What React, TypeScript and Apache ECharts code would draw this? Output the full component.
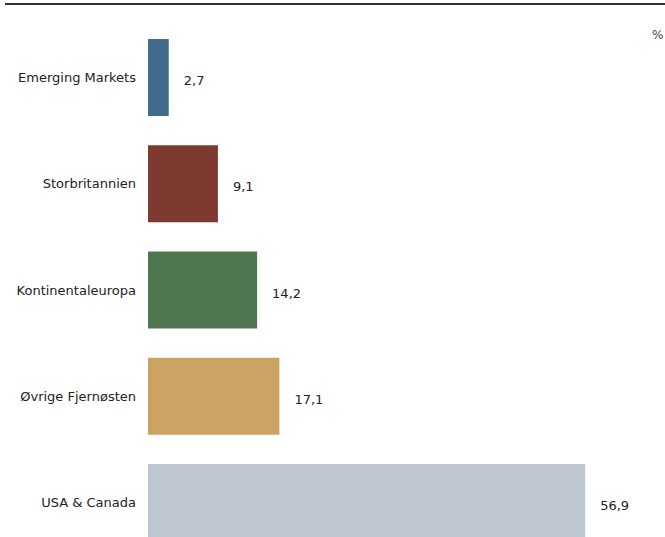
import React, { useEffect, useRef } from "react";
import * as echarts from "echarts";

const categories = ["Emerging Markets", "Storbritannien", "Kontinentaleuropa", "Øvrige Fjernøsten", "USA & Canada"];
const values = [2.7, 9.1, 14.2, 17.1, 56.9];
const colors = ["#416b8a", "#7e3a31", "#4f7751", "#caa261", "#bfc7d2"];
const unitLabel = "%";
const FONT = "'DejaVu Sans', 'Noto Sans', sans-serif";

export default function App() {
  const ref = useRef<HTMLDivElement>(null);
  useEffect(() => {
    const chart = echarts.init(ref.current!, null, { renderer: "svg" });
    chart.setOption({
      animation: false,
      grid: { left: 148, top: 24.5, width: 461, height: 531, containLabel: false, outerBoundsMode: "none" },
      xAxis: { type: "value", min: 0, max: 60, show: false },
      yAxis: {
        type: "category",
        inverse: true,
        data: categories,
        axisLine: { show: false },
        axisTick: { show: false },
        splitLine: { show: false },
        axisLabel: { color: "#222", fontSize: 13, fontFamily: FONT, margin: 12, padding: [12, 0, 0, 0] },
      },
      series: [
        {
          type: "bar",
          barWidth: 77,
          data: values.map((v, i) => ({ value: v, itemStyle: { color: colors[i] } })),
          label: {
            show: true,
            position: "right",
            distance: 15,
            offset: [0, 3],
            color: "#222",
            fontSize: 13,
            fontFamily: FONT,
            formatter: (p: any) => String(p.value).replace(".", ","),
          },
        },
      ],
      graphic: [
        { type: "line", shape: { x1: 5, y1: 4, x2: 665, y2: 4 }, style: { stroke: "#333", lineWidth: 2 } },
        {
          type: "text",
          x: 652,
          y: 29,
          style: { text: unitLabel, fill: "#444", fontSize: 12, fontFamily: FONT },
        },
      ],
    });
    return () => chart.dispose();
  }, []);
  return (
    <div style={{ position: "absolute", left: 0, top: 0, width: 665, height: 537, overflow: "hidden" }}>
      <div ref={ref} style={{ width: 665, height: 560 }} />
    </div>
  );
}
